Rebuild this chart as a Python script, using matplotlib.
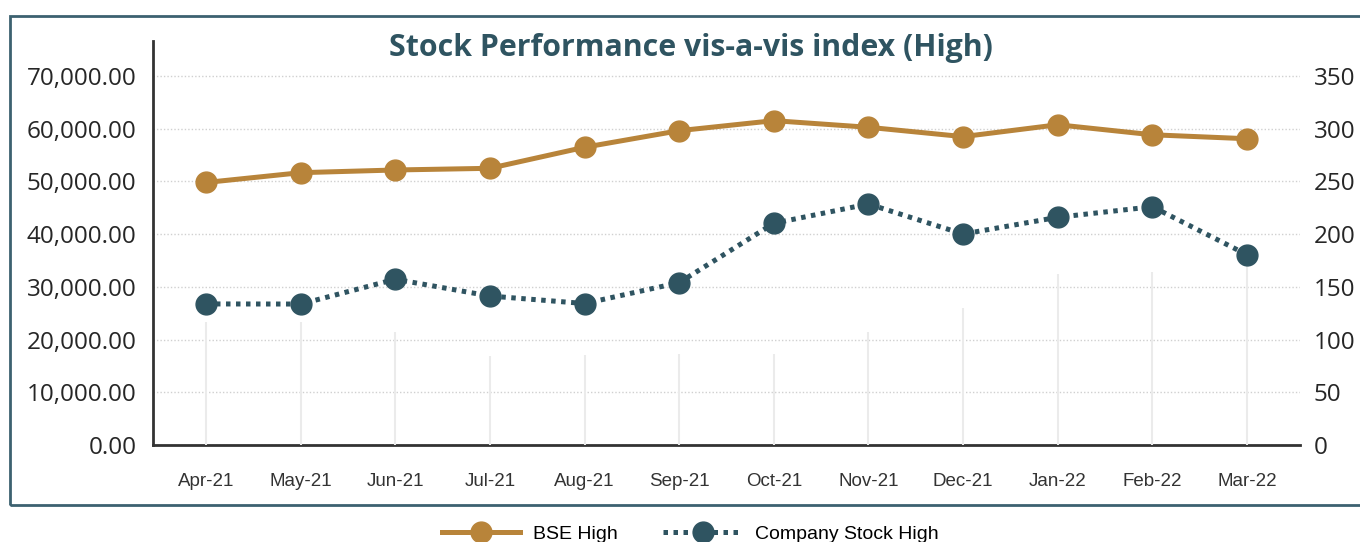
import matplotlib.pyplot as plt
from matplotlib.patches import Rectangle
from matplotlib.ticker import FuncFormatter
import numpy as np

# data
months = ["Apr-21", "May-21", "Jun-21", "Jul-21", "Aug-21", "Sep-21",
          "Oct-21", "Nov-21", "Dec-21", "Jan-22", "Feb-22", "Mar-22"]
bse_high = [49800, 51660, 52170, 52490, 56480, 59630,
            61530, 60270, 58500, 60750, 58850, 58100]
stock_high = [133.8, 133.7, 157.2, 141.3, 134.2, 154.0,
              210.3, 228.6, 200.1, 216.0, 226.0, 180.5]
# faint drop lines (hidden series) on the right axis
drop_top = [117, 117, 107.5, 84.4, 85.4, 86,
            86, 107.5, 129.6, 162, 164.4, 175]

left_ticks = np.arange(0, 70001, 10000)
right_ticks = np.arange(0, 351, 50)

GOLD = "#b8843a"
TEAL = "#2f5461"

W, H = 1360, 542
fig = plt.figure(figsize=(W / 100, H / 100), dpi=100)

# frame around the chart
fig.patches.append(Rectangle((10 / W, 1 - 505 / H), 1.2, (505 - 16) / H,
                             transform=fig.transFigure, fill=False,
                             edgecolor="#3c6170", linewidth=2))

ax = fig.add_axes([153 / W, 1 - 445 / H, (1300 - 153) / W, (445 - 41) / H])
ax2 = ax.twinx()

x = np.arange(len(months))
top_frac = (445 - 41) / (445 - 76)
ax.set_ylim(0, 70000 * top_frac)
ax2.set_ylim(0, 350 * top_frac)
ax.set_xlim(-0.56, len(months) - 0.44)

ax.set_yticks(left_ticks)
ax2.set_yticks(right_ticks)
ax.yaxis.set_major_formatter(FuncFormatter(lambda v, p: f"{v:,.2f}"))
ax.set_xticks(x)
ax.set_xticklabels(months, family="Liberation Sans", fontsize=13.5, color="#333333")

for t in ax.get_yticklabels() + ax2.get_yticklabels():
    t.set_family("Open Sans")
    t.set_fontsize(17.5)
    t.set_color("#262626")

ax.tick_params(axis="y", length=0, pad=12)
ax2.tick_params(axis="y", length=0, pad=10)
ax.tick_params(axis="x", length=0, pad=20)

ax.grid(axis="y", color="#d0d0d0", linestyle=(0, (1, 1.5)), linewidth=1)
ax.set_axisbelow(True)

for s in ["top", "right"]:
    ax.spines[s].set_visible(False)
for s in ["top", "right", "left", "bottom"]:
    ax2.spines[s].set_visible(False)
ax.spines["left"].set_color("#333333")
ax.spines["bottom"].set_color("#333333")
ax.spines["left"].set_linewidth(2)
ax.spines["bottom"].set_linewidth(2)

ax2.vlines(x, 0, drop_top, color="#ebebeb", linewidth=1.5, zorder=1)

l1, = ax.plot(x, bse_high, color=GOLD, linewidth=3.6, marker="o",
              markersize=15, label="BSE High", zorder=3)
l2, = ax2.plot(x, stock_high, color=TEAL, linewidth=3.6, marker="o",
               markersize=15, dashes=(0.9, 1.1), dash_capstyle="butt",
               label="Company Stock High", zorder=3)

fig.text(691 / W, 1 - 48 / H, "Stock Performance vis-a-vis index (High)",
         ha="center", va="center", fontsize=21.8, fontweight="bold",
         family="Open Sans", color=TEAL)

fig.legend(handles=[l1, l2], loc="center", bbox_to_anchor=(690 / W, 1 - 534 / H),
           ncol=2, frameon=False, prop={"family": "Liberation Sans", "size": 14},
           handlelength=4.05, columnspacing=2.35, handletextpad=0.65)

fig.savefig("out.png", dpi=100)
